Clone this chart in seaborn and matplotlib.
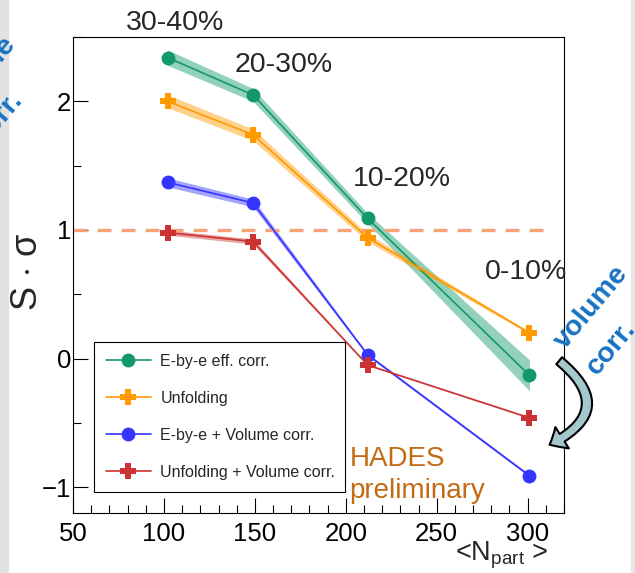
import numpy as np
import pandas as pd
import seaborn as sns
import matplotlib as mpl
mpl.use('Agg')
import matplotlib.pyplot as plt
from matplotlib.patches import FancyArrowPatch, Rectangle
from matplotlib.ticker import MultipleLocator

# ---------------------------------------------------------
# data
npart = [102, 149, 212, 301]
centrality = ['30-40%', '20-30%', '10-20%', '0-10%']

ebye_eff = [2.34, 2.05, 1.09, -0.13]
unfolding = [2.00, 1.74, 0.94, 0.20]
ebye_vol = [1.37, 1.21, 0.03, -0.91]
unfold_vol = [0.98, 0.91, -0.05, -0.46]

# half widths of the shaded bands
ebye_eff_err = [0.06, 0.05, 0.04, 0.12]
unfolding_err = [0.05, 0.045, 0.03, 0.01]
ebye_vol_err = [0.035, 0.03, 0.01, 0.01]
unfold_vol_err = [0.02, 0.02, 0.005, 0.005]

labels = ['E-by-e eff. corr.', 'Unfolding', 'E-by-e + Volume corr.',
          'Unfolding + Volume corr.']
colors = ['#12996a', '#ff9900', '#3535ff', '#cc3333']
markers = ['o', 'P', 'o', 'P']

series = [ebye_eff, unfolding, ebye_vol, unfold_vol]
errors = [ebye_eff_err, unfolding_err, ebye_vol_err, unfold_vol_err]

# centrality label positions (x, y in data units)
cent_x = [106, 166, 231, 299]
cent_y = [2.61, 2.28, 1.40, 0.67]

# ---------------------------------------------------------
sns.set_theme(style='white')
plt.rcParams['font.family'] = ['Liberation Sans', 'DejaVu Sans']
plt.rcParams['mathtext.fontset'] = 'custom'
plt.rcParams['mathtext.rm'] = 'Liberation Sans'
plt.rcParams['mathtext.it'] = 'Liberation Sans'

fig = plt.figure(figsize=(6.35, 5.73), dpi=100)
ax = fig.add_axes([0.115, 0.1047, 0.7732, 0.8307])

for vals, err, lab, col, mk in zip(series, errors, labels, colors, markers):
    df = pd.DataFrame({'npart': npart, 'val': vals})
    lo = np.array(vals) - np.array(err)
    hi = np.array(vals) + np.array(err)
    ax.fill_between(npart, lo, hi, color=col, alpha=0.45, lw=0)
    sns.lineplot(data=df, x='npart', y='val', color=col, marker=mk,
                 markersize=10 if mk == 'o' else 11, markeredgewidth=0,
                 linewidth=1.2, label=lab, ax=ax)

ax.axhline(1.0, xmin=0.0, xmax=(314 - 50) / 270., color='#f9a27a',
           lw=2.4, ls=(0, (4.2, 3.0)), zorder=1)

for txt, x, y in zip(centrality, cent_x, cent_y):
    ax.text(x, y, txt, fontsize=20.5, ha='center', va='center',
            clip_on=False)

ax.set_xlim(50, 320)
ax.set_ylim(-1.2, 2.5)
ax.xaxis.set_major_locator(MultipleLocator(50))
ax.xaxis.set_minor_locator(MultipleLocator(10))
ax.yaxis.set_major_locator(MultipleLocator(1))
ax.yaxis.set_minor_locator(MultipleLocator(0.5))
ax.tick_params(axis='both', which='both', direction='in', colors='black',
               bottom=True, left=True, top=False, right=False)
ax.tick_params(axis='both', which='major', length=10.5, width=0.8,
               labelsize=18.5)
ax.tick_params(axis='both', which='minor', length=5.5, width=0.8)
ax.tick_params(axis='x', which='major', pad=6.5)
ax.tick_params(axis='y', which='major', pad=1.5)
for sp in ax.spines.values():
    sp.set_color('black')
    sp.set_linewidth(0.8)

ax.set_xlabel('')
ax.set_ylabel('')
ax.text(-0.092, 0.506, r'S $\cdot$ $\sigma$', fontsize=26, rotation=90,
        ha='center', va='center', transform=ax.transAxes)
ax.text(0.967, -0.090, r'<N$_{\mathregular{part}}$ >', fontsize=19.5,
        ha='right', va='center', transform=ax.transAxes)

leg = ax.legend(loc='lower left', bbox_to_anchor=(0.043, 0.044, 0.511, 0.307),
                mode='expand', fontsize=11.5, frameon=True, fancybox=False,
                edgecolor='black', framealpha=1, borderaxespad=0,
                labelspacing=1.38, handlelength=2.8, handletextpad=0.6,
                borderpad=0.75)
leg.get_frame().set_linewidth(0.8)

ax.text(202, -0.831, 'HADES', fontsize=20, color='#c36a12',
        ha='left', va='baseline')
ax.text(202, -1.087, 'preliminary', fontsize=20, color='#c36a12',
        ha='left', va='baseline')

# side annotations (pixel centres, top-left origin)
side_words = ['volume', 'corr.', 'volume', 'corr.']
side_px = [(592, 307), (611, 348), (-20, 78), (-2, 119)]
for word, (px, py) in zip(side_words, side_px):
    fig.text(px / 635., 1 - py / 573., word, fontsize=20.5, fontweight='bold',
             color='#1772c2', rotation=50, ha='center', va='center',
             rotation_mode='anchor')

arrow = FancyArrowPatch((557 / 635., 1 - 359 / 573.), (547 / 635., 1 - 446 / 573.),
                        transform=fig.transFigure,
                        connectionstyle='arc3,rad=-0.8',
                        arrowstyle='simple,head_width=1.4,head_length=0.8,tail_width=0.5',
                        mutation_scale=13, facecolor='#a4c8cc',
                        edgecolor='black', lw=1.5)
fig.patches.append(arrow)

fig.patches.append(Rectangle((0, 0), 0.012, 1, transform=fig.transFigure,
                             color='#e2e2e2', zorder=-1))
fig.patches.append(Rectangle((0.993, 0), 0.007, 1, transform=fig.transFigure,
                             color='#e6e6e6', zorder=-1))

plt.savefig('out.png', dpi=100)
